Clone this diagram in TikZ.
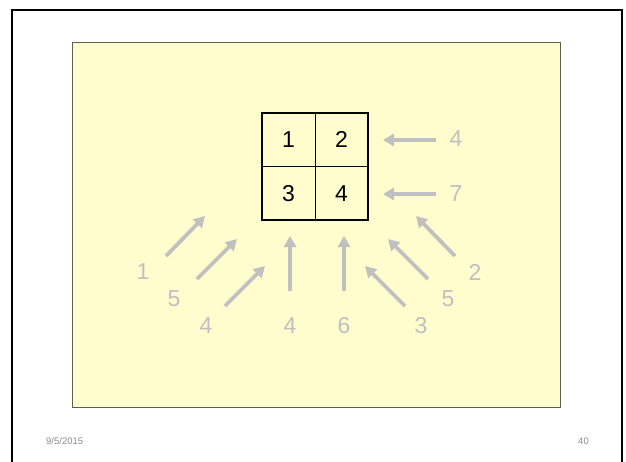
\documentclass[tikz,border=0pt]{standalone}
\usepackage{fontspec}
\setmainfont{Liberation Sans}
\usetikzlibrary{arrows.meta}
\definecolor{pad}{RGB}{255,252,206}
\definecolor{padline}{RGB}{95,95,75}
\definecolor{lg}{RGB}{192,192,192}
\definecolor{foot}{RGB}{140,140,140}
\tikzset{
  cell/.style={minimum width=53pt,minimum height=53pt,inner sep=0pt,font=\fontsize{23}{25}\selectfont},
  lbl/.style={text=lg,inner sep=0pt,font=\fontsize{23}{25}\selectfont},
  garrow/.style={draw=lg,line width=3.8pt,-{Triangle[width=12pt,length=11pt]}},
  foottext/.style={text=foot,inner sep=0pt,font=\fontsize{9.5}{10}\selectfont}
}
\begin{document}
\begin{tikzpicture}[x=1pt,y=-1pt]
\useasboundingbox (0,0) rectangle (626,461);
\fill[white] (0,0) rectangle (626,461);
\draw[line width=2.4pt] (12,462) -- (12,10) -- (622,10) -- (622,462);
\draw[padline,fill=pad,line width=1pt] (72,42) rectangle (560,407);
% grid
\node[cell] (c1) at (288.5,139.5) {1};
\node[cell] (c2) at (341.5,139.5) {2};
\node[cell] (c3) at (288.5,193.5) {3};
\node[cell] (c4) at (341.5,193.5) {4};
\draw[line width=0.6pt] (c1.north east) -- (c3.south east);
\draw[line width=0.6pt] (c1.south west) -- (c2.south east);
\draw[line width=2pt] (c1.north west) rectangle (c4.south east);
% right labels and arrows
\node[lbl] (r1) at (456,139) {4};
\node[lbl] (r2) at (456,194) {7};
\coordinate (r1s) at (436,140); \coordinate (r1e) at (383,140);
\coordinate (r2s) at (436,194); \coordinate (r2e) at (383,194);
\draw[garrow] (r1s) -- (r1e);
\draw[garrow] (r2s) -- (r2e);
% bottom labels
\node[lbl] (b1) at (143,272) {1};
\node[lbl] (b2) at (174,299) {5};
\node[lbl] (b3) at (206,326) {4};
\node[lbl] (b4) at (290,326) {4};
\node[lbl] (b5) at (344,326) {6};
\node[lbl] (b6) at (421,326) {3};
\node[lbl] (b7) at (448,299) {5};
\node[lbl] (b8) at (475,272) {2};
% arrow coordinates
\coordinate (a1s) at (166,256); \coordinate (a1e) at (205,216);
\coordinate (a2s) at (197,279); \coordinate (a2e) at (237,239);
\coordinate (a3s) at (225,306); \coordinate (a3e) at (265,266);
\coordinate (a4s) at (290,291); \coordinate (a4e) at (290,236);
\coordinate (a5s) at (344,291); \coordinate (a5e) at (344,236);
\coordinate (a6s) at (405,306); \coordinate (a6e) at (365,266);
\coordinate (a7s) at (428,279); \coordinate (a7e) at (388,239);
\coordinate (a8s) at (455,256); \coordinate (a8e) at (416,216);
\foreach \i in {1,...,8} { \draw[garrow] (a\i s) -- (a\i e); }
% footer
\node[foottext,anchor=west] (date) at (46,441) {9/5/2015};
\node[foottext,anchor=east] (page) at (589,441) {40};
\end{tikzpicture}
\end{document}
